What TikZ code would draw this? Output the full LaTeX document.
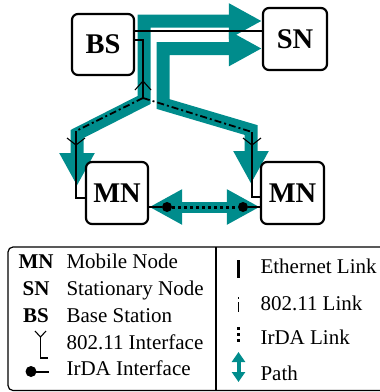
\documentclass[tikz,border=0pt]{standalone}
\usepackage{fontspec}
\setmainfont{Liberation Serif}
\usetikzlibrary{arrows.meta,backgrounds}
\definecolor{pathteal}{RGB}{0,140,140}
\begin{document}
\begin{tikzpicture}[x=1pt,y=-1pt,
	box/.style={draw,fill=white,rounded corners=6pt,line width=2.2pt,inner sep=0pt,
		font=\fontsize{28.5}{30}\selectfont\bfseries},
	route/.style={draw=pathteal,line width=13pt,
		{Triangle[length=33pt,width=33pt]}-{Triangle[length=33pt,width=33pt]}},
	wlan/.style={line width=1.8pt,dash pattern=on 7pt off 3pt on 2pt off 3pt},
	antenna/.style={line width=1.1pt},
	irdot/.style={circle,fill,inner sep=0pt,minimum size=10pt},
	key/.style={anchor=base,font=\fontsize{21}{24}\selectfont\bfseries},
	keytext/.style={anchor=base west,font=\fontsize{21}{24}\selectfont}]
	\useasboundingbox (0,0) rectangle (380,392);
	\node[box,minimum width=62pt,minimum height=61pt] (bs) at (103,44.5) {BS};
	\node[box,minimum width=64pt,minimum height=62pt] (sn) at (295,39) {SN};
	\node[box,minimum width=62pt,minimum height=62pt] (mnl) at (117,193) {MN};
	\node[box,minimum width=63pt,minimum height=62pt] (mnr) at (292.5,193) {MN};
	\coordinate (bsant) at (143,98);
	\coordinate (mnlant) at (76,131);
	\coordinate (mnrant) at (252,132);
	\node[irdot] (irl) at (167,207) {};
	\node[irdot] (irr) at (243,207) {};
	\begin{scope}[on background layer]
	\draw[route] (sn.west |- 0,21) -- (144,21) -- (144,100) -- (77,134) -- (77,186);
	\draw[route] (sn.west |- 0,48.5) -- (163,48.5) -- (163,104) -- (251,130) -- (251,184);
	\draw[route,line width=11pt] (mnl.east |- irl) -- (mnr.west |- irr);
	\end{scope}
	\draw[line width=2pt] (bs.east |- 0,31) -- (sn.west |- 0,31);
	\draw[wlan] (bsant) -- (mnlant);  \draw[wlan] (bsant) -- (mnrant);
	\draw[antenna] (bs.east |- 0,40) -| (bsant);
	\draw[antenna] (135,90) -- (143,81) -- (151,90);
	\draw[antenna] (mnlant) |- (mnl.west |- 0,198);
	\draw[antenna] (67,138) -- (76,145) -- (85,138);
	\draw[antenna] (mnrant) |- (mnr.west |- 0,197);
	\draw[antenna] (243,138) -- (252,145) -- (261,138);
	\draw[line width=2pt] (mnl.east |- irl) -- (irl);
	\draw[line width=3pt,dash pattern=on 3pt off 3pt] (irl) -- (irr);
	\draw[line width=2pt] (irr) -- (mnr.west |- irr);
	\draw[line width=1.2pt,rounded corners=5pt] (8,247) rectangle (386,390.5);
	\draw[line width=1.2pt] (216,247) -- (216,390.5);
	\node[key] (mnkey) at (36,268) {MN};       \node[keytext] (mntext) at (63,268) {Mobile Node};
	\node[key] (snkey) at (36,295) {SN};       \node[keytext] (sntext) at (63,295) {Stationary Node};
	\node[key] (bskey) at (36,322) {BS};       \node[keytext] (bstext) at (63,322) {Base Station};
	\draw[antenna] (35,331) -- (40.5,337) -- (46,331);  \draw[antenna] (40.5,337) |- (48,358);
	\node[keytext] (antext) at (63,349) {802.11 Interface};
	\fill (31,371.5) circle (5.5pt);  \draw[line width=2pt] (31,371.5) -- (49,371.5);
	\node[keytext] (irtext) at (63,375) {IrDA Interface};
	\draw[line width=2.5pt] (238.5,260) -- (238.5,278);
	\node[keytext] (ethtext) at (257,273.5) {Ethernet Link};
	\draw[line width=1.5pt,dash pattern=on 2pt off 3pt on 10pt] (238.5,297) -- (238.5,312);
	\node[keytext] (wlantext) at (257,310) {802.11 Link};
	\draw[line width=2.5pt,dash pattern=on 3pt off 3pt] (238.5,327) -- (238.5,344);
	\node[keytext] (irlinktext) at (257,344.5) {IrDA Link};
	\draw[pathteal,line width=4pt,{Triangle[length=10pt,width=13pt]}-{Triangle[length=10pt,width=13pt]}]
		(238.5,352) -- (238.5,382);
	\node[keytext] (pathtext) at (257,380) {Path};
\end{tikzpicture}
\end{document}
